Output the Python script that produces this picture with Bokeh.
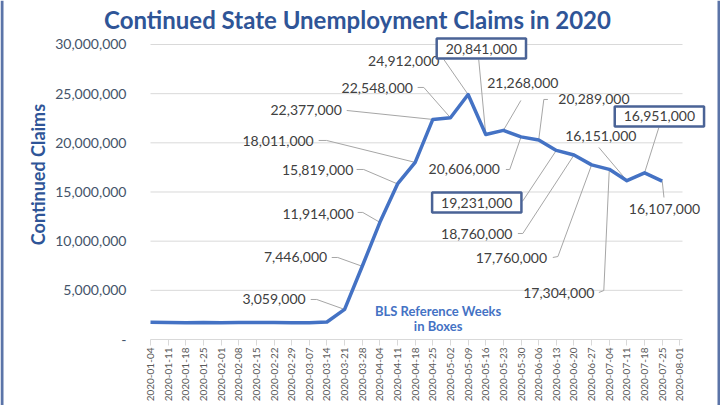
import math
from bokeh.plotting import figure
from bokeh.models import Range1d, FixedTicker, Label, BoxAnnotation
from bokeh.embed import file_html
from bokeh.resources import INLINE

# ---------------- data ----------------
dates = ["2020-01-04", "2020-01-11", "2020-01-18", "2020-01-25", "2020-02-01",
         "2020-02-08", "2020-02-15", "2020-02-22", "2020-02-29", "2020-03-07",
         "2020-03-14", "2020-03-21", "2020-03-28", "2020-04-04", "2020-04-11",
         "2020-04-18", "2020-04-25", "2020-05-02", "2020-05-09", "2020-05-16",
         "2020-05-23", "2020-05-30", "2020-06-06", "2020-06-13", "2020-06-20",
         "2020-06-27", "2020-07-04", "2020-07-11", "2020-07-18", "2020-07-25",
         "2020-08-01"]
claims = [1745000, 1726000, 1700000, 1734000, 1698000, 1727000, 1724000,
          1734000, 1703000, 1702000, 1784000, 3059000, 7446000, 11914000,
          15819000, 18011000, 22377000, 22548000, 24912000, 20841000,
          21268000, 20606000, 20289000, 19231000, 18760000, 17760000,
          17304000, 16151000, 16951000, 16107000]
y_ticks = [0, 5000000, 10000000, 15000000, 20000000, 25000000, 30000000]
y_tick_labels = ["-", "5,000,000", "10,000,000", "15,000,000", "20,000,000",
                 "25,000,000", "30,000,000"]
labeled_idx = list(range(11, 30))
boxed_idx = [19, 23, 28]  # BLS reference weeks

# ---------------- layout of data labels (x index, y in millions) ----------------
label_pos = {
    11: (7.00, 4.07), 12: (8.22, 8.34), 13: (9.50, 12.81), 14: (9.47, 17.19),
    15: (7.23, 20.14), 16: (8.82, 23.29), 17: (12.85, 25.53), 18: (14.35, 28.27),
    19: (18.75, 29.59), 20: (21.10, 26.04), 21: (17.78, 17.29), 22: (25.13, 24.41),
    23: (18.49, 13.93), 24: (18.49, 10.68), 25: (20.45, 8.24), 26: (23.14, 4.68),
    27: (25.52, 20.65), 28: (28.84, 22.68), 29: (29.13, 13.32),
}
leader_pts = {
    11: [(9.08, 4.07), (9.42, 4.07)], 12: [(10.27, 8.34), (10.61, 8.34)],
    13: [(11.74, 12.92), (12.03, 12.92)], 14: [(11.68, 17.29), (12.08, 17.29)],
    15: [(9.53, 20.24), (9.98, 20.24)], 16: [(11.12, 23.29)],
    17: [(15.14, 25.63), (15.49, 25.63)], 18: [(16.62, 28.48)],
    19: [(18.60, 28.48)], 20: [(20.99, 24.31)],
    21: [(20.14, 17.29), (20.36, 17.29)], 22: [(22.52, 24.41), (22.29, 24.41)],
    23: [(20.80, 13.93), (21.10, 14.10)], 24: [(20.82, 10.78), (21.10, 10.78)],
    25: [(22.80, 8.34), (23.09, 8.44)], 26: [(25.41, 4.78), (25.69, 4.98)],
    27: [(25.41, 19.53)], 28: [(28.81, 21.56)], 29: [(29.10, 14.44)],
}

FONT = "Lato"
BLUE = "#4472C4"
DARK = "#2F5597"
FRAME = "#5B74A8"
X_END = 30.15  # end of plotting area (index units)

x = list(range(len(claims)))

# the frame covers the whole canvas; axes are pinned at x=0 / y=0
p = figure(width=720, height=405, output_backend="svg", toolbar_location=None,
           x_range=Range1d(-8.501, 32.303), y_range=Range1d(-6.711e6, 34.473e6),
           min_border=0)
p.outline_line_color = None
p.background_fill_color = "white"
p.border_fill_color = "white"
p.grid.visible = False

# y axis
p.yaxis.fixed_location = 0
p.yaxis.ticker = FixedTicker(ticks=y_ticks)
p.yaxis.major_label_overrides = {t: l for t, l in zip(y_ticks, y_tick_labels)}
p.yaxis.axis_line_color = None
p.yaxis.major_tick_line_color = None
p.yaxis.minor_tick_line_color = None
p.yaxis.major_label_standoff = 18
p.yaxis.major_label_text_font = FONT
p.yaxis.major_label_text_font_size = "14px"
p.yaxis.major_label_text_color = "#44546A"

# x axis
p.xaxis.fixed_location = 0
p.xaxis.bounds = (0, X_END)
p.xaxis.ticker = FixedTicker(ticks=list(range(len(dates))))
p.xaxis.major_label_overrides = {i: d for i, d in enumerate(dates)}
p.xaxis.major_label_orientation = math.pi / 2
p.xaxis.axis_line_color = "#D9D9D9"
p.xaxis.major_tick_line_color = "#D9D9D9"
p.xaxis.major_tick_out = 6
p.xaxis.major_tick_in = 0
p.xaxis.minor_tick_line_color = None
p.xaxis.major_label_standoff = 2
p.xaxis.major_label_text_font = FONT
p.xaxis.major_label_text_font_size = "10px"
p.xaxis.major_label_text_color = "#595959"

# horizontal gridlines
grid_y = y_ticks[1:]
p.segment(x0=[0] * len(grid_y), y0=grid_y, x1=[X_END] * len(grid_y), y1=grid_y,
          line_color="#D9D9D9", line_width=1)

# leader lines
xs, ys = [], []
for i in labeled_idx:
    pts = leader_pts[i]
    xs.append([pt[0] for pt in pts] + [x[i]])
    ys.append([pt[1] * 1e6 for pt in pts] + [claims[i]])
p.multi_line(xs, ys, line_color="#A6A6A6", line_width=1)

# main line
p.line(x, claims, line_color=BLUE, line_width=3.5, line_join="round")

# data labels
for i in labeled_idx:
    lx, ly = label_pos[i]
    kw = dict(x=lx, y=ly * 1e6, text=f"{claims[i]:,}", text_align="center",
              text_baseline="middle", text_font=FONT, text_font_size="14px",
              text_color="#404040")
    if i in boxed_idx:
        kw.update(border_line_color="#4A6396", border_line_width=2.5,
                  background_fill_color="white", padding=(9, 5))
    p.add_layout(Label(**kw))

# note
p.add_layout(Label(x=16.3, y=2.9e6, text="BLS Reference Weeks", text_align="center",
                   text_baseline="middle", text_font=FONT, text_font_style="bold",
                   text_font_size="13px", text_color=BLUE))
p.add_layout(Label(x=16.3, y=1.4e6, text="in Boxes", text_align="center",
                   text_baseline="middle", text_font=FONT, text_font_style="bold",
                   text_font_size="13px", text_color=BLUE))

# y axis title
p.add_layout(Label(x=-6.35, y=17.0e6, text="Continued  Claims", angle=math.pi / 2,
                   text_align="center", text_baseline="middle", text_font=FONT,
                   text_font_style="bold", text_font_size="18px", text_color=DARK))

# chart title
p.add_layout(Label(x=11.73, y=32.5e6, text="Continued State Unemployment Claims in 2020",
                   text_align="center", text_baseline="alphabetic", text_font=FONT,
                   text_font_style="bold", text_font_size="24px", text_color=DARK))

# outer frame (left/right bars)
for l, r in [(0, 3), (717, 720)]:
    p.add_layout(BoxAnnotation(left=l, right=r, top=0, bottom=405,
                               left_units="canvas", right_units="canvas",
                               top_units="canvas", bottom_units="canvas",
                               fill_color=FRAME, fill_alpha=1, line_color=None,
                               level="overlay"))

open("out.html", "w").write(file_html(p, INLINE))
